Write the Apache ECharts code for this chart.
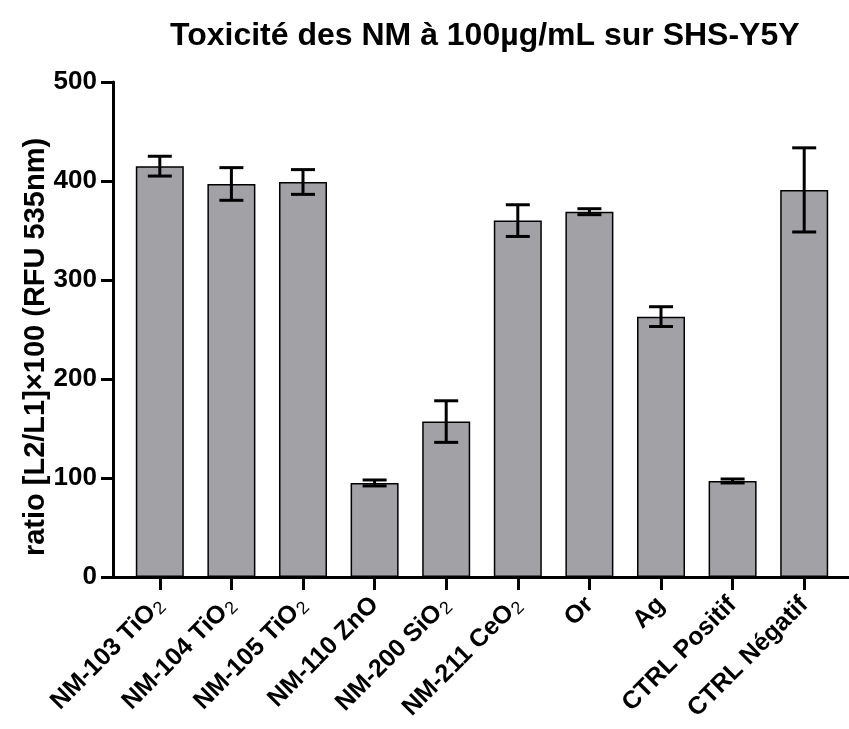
<!DOCTYPE html>
<html>
<head>
<meta charset="utf-8">
<script src="https://cdn.jsdelivr.net/npm/echarts@6/dist/echarts.min.js"></script>
<style>html,body{margin:0;padding:0;background:#fff}#c{width:849px;height:729px}</style>
</head>
<body>
<div id="c"></div>
<script>
var categories = ['NM-103 TiO{s|2}', 'NM-104 TiO{s|2}', 'NM-105 TiO{s|2}', 'NM-110 ZnO', 'NM-200 SiO{s|2}', 'NM-211 CeO{s|2}', 'Or', 'Ag', 'CTRL Positif', 'CTRL Négatif'];
var means = [415, 397, 399, 95, 157, 360, 369, 263, 97, 391];
var errors = [10, 16.5, 12.5, 3, 21, 16, 3, 10, 2, 42.5];
var yTicks = [0, 100, 200, 300, 400, 500];
var titleText = 'Toxicité des NM à 100µg/mL sur SHS-Y5Y';
var yAxisTitle = 'ratio [L2/L1]×100 (RFU 535nm)';

var FONT = '"Liberation Sans", Arial, sans-serif';
var chart = echarts.init(document.getElementById('c'));
var errData = means.map(function (m, i) { return [i, m - errors[i], m + errors[i]]; });

chart.setOption({
  animation: false,
  backgroundColor: '#fff',
  title: {
    text: titleText,
    left: 165, top: 15,
    textStyle: { fontFamily: FONT, fontWeight: 'bold', fontSize: 32, color: '#000' }
  },
  graphic: [{
    type: 'text', x: 36, y: 347, rotation: Math.PI / 2,
    style: { text: yAxisTitle, fontFamily: FONT, fontWeight: 'bold', fontSize: 29, fill: '#000',
             align: 'center', verticalAlign: 'middle' }
  }],
  grid: [
    { left: 113, right: 0, top: 82, bottom: 152 },
    { left: 124, right: 9, top: 82, bottom: 152 }
  ],
  xAxis: [
    { gridIndex: 0, type: 'value', min: 0, max: 1,
      axisLine: { show: true, lineStyle: { color: '#000', width: 3 } },
      axisTick: { show: false }, axisLabel: { show: false }, splitLine: { show: false } },
    { gridIndex: 1, type: 'category', data: categories,
      axisLine: { show: false },
      axisTick: { show: true, alignWithLabel: true, length: 13, lineStyle: { color: '#000', width: 3 } },
      axisLabel: {
        rotate: 45, margin: 24, interval: 0, color: '#000',
        fontFamily: FONT, fontWeight: 'bold', fontSize: 25,
        rich: { s: { fontFamily: FONT, fontWeight: 'normal', fontSize: 18, padding: [11, 0, 0, 1], color: '#000' } }
      },
      splitLine: { show: false } }
  ],
  yAxis: [
    { gridIndex: 0, type: 'value', min: 0, max: 500, interval: 100,
      axisLine: { show: true, lineStyle: { color: '#000', width: 3 } },
      axisTick: { show: true, length: 12, lineStyle: { color: '#000', width: 3 } },
      axisLabel: { color: '#000', fontFamily: FONT, fontWeight: 'bold', fontSize: 26, margin: 16 },
      splitLine: { show: false } },
    { gridIndex: 1, type: 'value', min: 0, max: 500, interval: 100, show: false, splitLine: { show: false } }
  ],
  series: [
    { type: 'bar', xAxisIndex: 1, yAxisIndex: 1, data: means, barWidth: 48,
      itemStyle: { color: '#a2a1a6', borderColor: '#000', borderWidth: 1.5 } },
    { type: 'custom', xAxisIndex: 1, yAxisIndex: 1, data: errData, z: 10,
      renderItem: function (params, api) {
        var x = api.value(0);
        var lo = api.coord([x, api.value(1)]);
        var hi = api.coord([x, api.value(2)]);
        var hw = 12;
        var st = { stroke: '#000', lineWidth: 3 };
        return { type: 'group', children: [
          { type: 'line', shape: { x1: lo[0], y1: lo[1], x2: hi[0], y2: hi[1] }, style: st },
          { type: 'line', shape: { x1: hi[0] - hw, y1: hi[1], x2: hi[0] + hw, y2: hi[1] }, style: st },
          { type: 'line', shape: { x1: lo[0] - hw, y1: lo[1], x2: lo[0] + hw, y2: lo[1] }, style: st }
        ] };
      } }
  ]
});
</script>
</body>
</html>
